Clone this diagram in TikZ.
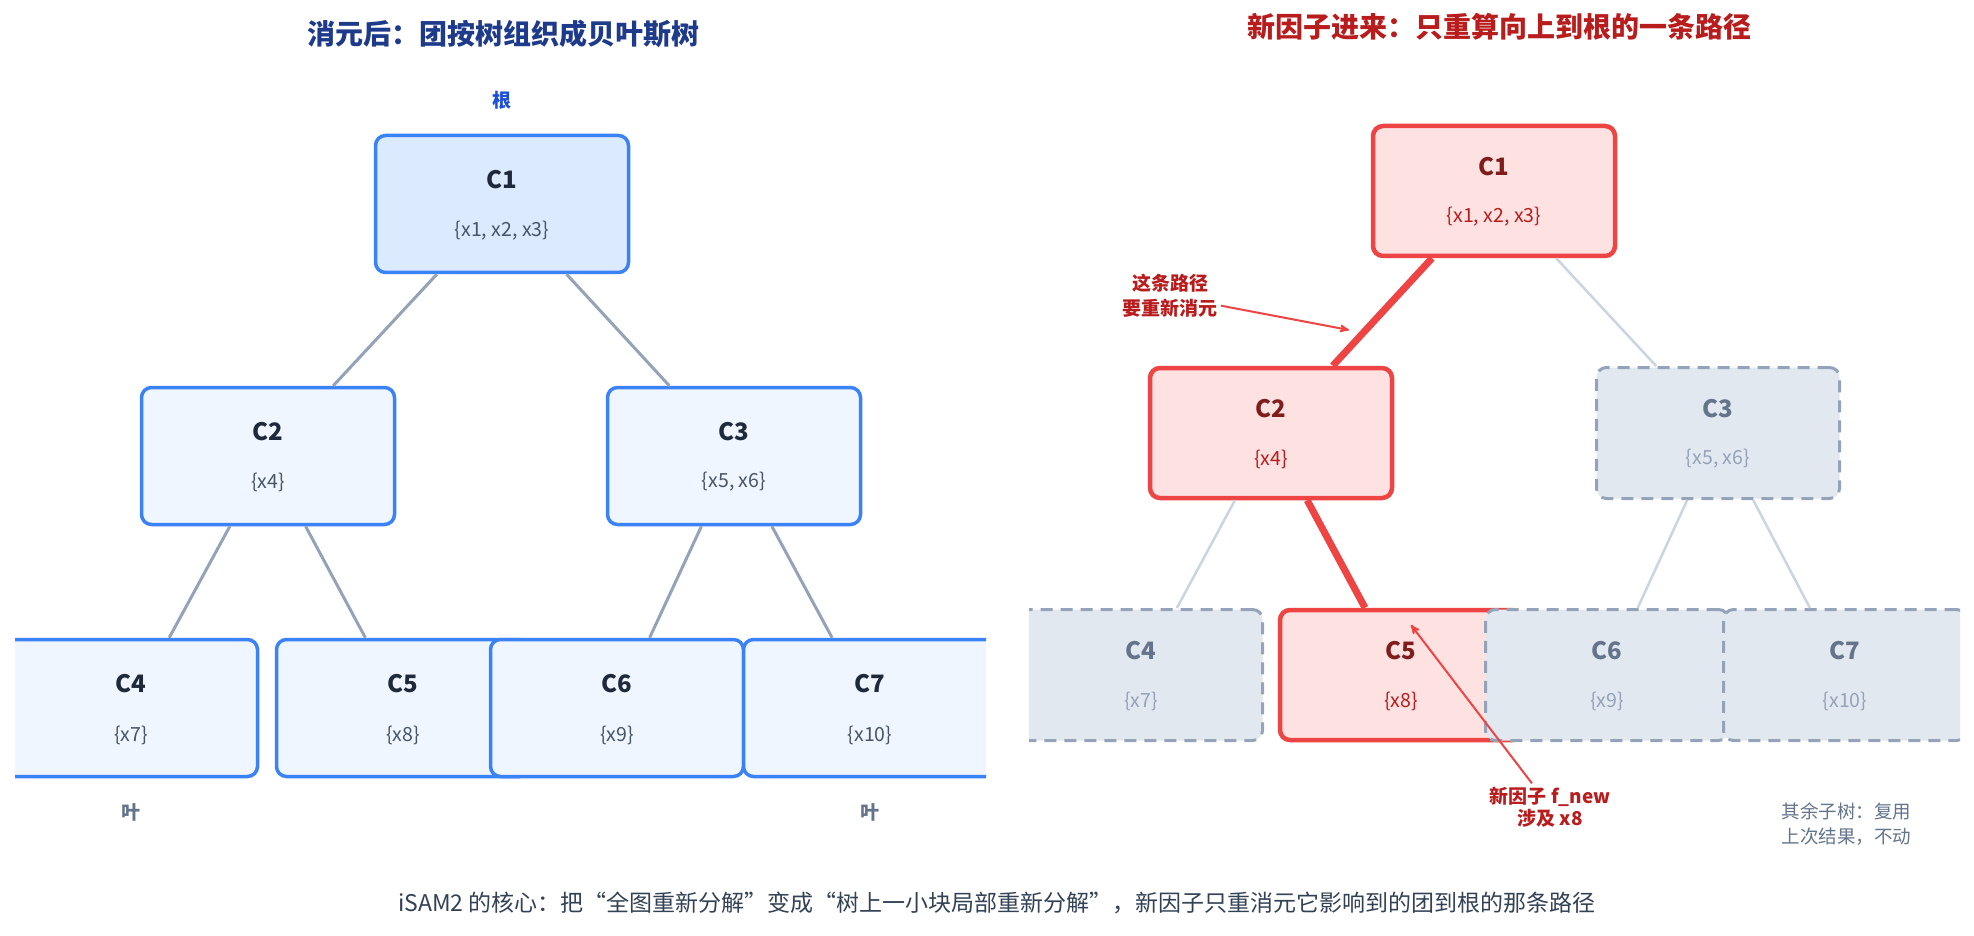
\documentclass[tikz,border=0pt]{standalone}
\usepackage{fontspec}
\setmainfont{Noto Sans CJK SC}
\usepackage{xcolor}
\usepackage{tikz}
\usetikzlibrary{arrows}

\definecolor{titleblue}{HTML}{1E3A8A}
\definecolor{titlered}{HTML}{B91C1C}
\definecolor{rootblue}{HTML}{1D4ED8}
\definecolor{boxblue}{HTML}{3B82F6}
\definecolor{fillroot}{HTML}{DBEAFE}
\definecolor{fillblue}{HTML}{EFF6FF}
\definecolor{ink}{HTML}{1E293B}
\definecolor{slatemid}{HTML}{475569}
\definecolor{edgegray}{HTML}{94A3B8}
\definecolor{redline}{HTML}{EF4444}
\definecolor{redfill}{HTML}{FEE2E2}
\definecolor{redink}{HTML}{7F1D1D}
\definecolor{greyfill}{HTML}{E2E8F0}
\definecolor{greyink}{HTML}{64748B}
\definecolor{paleedge}{HTML}{CBD5E1}
\definecolor{capink}{HTML}{334155}

\newcommand{\fsz}[2]{\fontsize{#1}{#2}\selectfont}

\begin{document}
\begin{tikzpicture}[x=1pt, y=-1pt,
  clq/.style={shape=rectangle, rounded corners=10pt, draw=boxblue, line width=3.5pt, fill=fillblue, minimum width=253pt, minimum height=137pt, inner sep=0pt},
  clqroot/.style={clq, fill=fillroot},
  hot/.style={shape=rectangle, rounded corners=10pt, draw=redline, line width=4.5pt, fill=redfill, minimum width=242pt, minimum height=130pt, inner sep=0pt},
  cold/.style={shape=rectangle, rounded corners=10pt, draw=edgegray, line width=3pt, dash pattern=on 12pt off 8pt, fill=greyfill, minimum width=243pt, minimum height=131pt, inner sep=0pt},
  cname/.style={font={\fsz{24}{28}\bfseries}, text=ink},
  cvars/.style={font={\fsz{19.5}{22}}, text=slatemid},
  hotname/.style={cname, text=redink},
  hotvars/.style={cvars, text=titlered},
  coldname/.style={cname, text=greyink},
  coldvars/.style={cvars, text=edgegray},
  tree/.style={draw=edgegray, line width=3pt},
  hotedge/.style={draw=redline, line width=7pt},
  quietedge/.style={draw=paleedge, line width=2.5pt},
  annoarrow/.style={draw=redline, line width=2pt, -stealth'},
  tag/.style={font={\fsz{19}{24}\bfseries}}
  ]
 \fill [white] (0,0) rectangle (1974,936);
 \useasboundingbox (0,0) rectangle (1974,936);

 \node (lefttitle) at (503,34) [font={\fsz{28}{32}\bfseries}, text=titleblue] {消元后：团按树组织成贝叶斯树};
 \node (righttitle) at (1499,27) [font={\fsz{28}{32}\bfseries}, text=titlered] {新因子进来：只重算向上到根的一条路径};

 \begin{scope}
 \clip (15,0) rectangle (986,936);
 \node (L1) at (502,204) [clqroot] { } ;
 \node (L1n) at (502,180) [cname] {C1};
 \node (L1v) at (502,231) [cvars] {\{x1, x2, x3\}};
 \node (L2) at (268,456) [clq] { } ;
 \node (L2n) at (268,432) [cname] {C2};
 \node (L2v) at (268,482) [cvars] {\{x4\}};
 \node (L3) at (734,456) [clq] { } ;
 \node (L3n) at (734,432) [cname] {C3};
 \node (L3v) at (734,482) [cvars] {\{x5, x6\}};
 \node (L4) at (131,708) [clq] { } ;
 \node (L4n) at (131,684) [cname] {C4};
 \node (L4v) at (131,735) [cvars] {\{x7\}};
 \node (L5) at (403,708) [clq] { } ;
 \node (L5n) at (403,684) [cname] {C5};
 \node (L5v) at (403,735) [cvars] {\{x8\}};
 \node (L6) at (617,708) [clq] { } ;
 \node (L6n) at (617,684) [cname] {C6};
 \node (L6v) at (617,735) [cvars] {\{x9\}};
 \node (L7) at (870,708) [clq] { } ;
 \node (L7n) at (870,684) [cname] {C7};
 \node (L7v) at (870,735) [cvars] {\{x10\}};
 \draw [tree] (L1) -- (L2);
 \draw [tree] (L1) -- (L3);
 \draw [tree] (L2) -- (L4);
 \draw [tree] (L2) -- (L5);
 \draw [tree] (L3) -- (L6);
 \draw [tree] (L3) -- (L7);
 \end{scope}

 \node (rootmark) at (502,100) [tag, text=rootblue] {根};
 \node (leafa) at (131,812) [tag, text=greyink] {叶};
 \node (leafb) at (870,812) [tag, text=greyink] {叶};

 \begin{scope}
 \clip (1029,0) rectangle (1960,936);
 \node (R1) at (1494,191) [hot] { } ;
 \node (R1n) at (1494,167) [hotname] {C1};
 \node (R1v) at (1494,217) [hotvars] {\{x1, x2, x3\}};
 \node (R2) at (1271,433) [hot] { } ;
 \node (R2n) at (1271,409) [hotname] {C2};
 \node (R2v) at (1271,459) [hotvars] {\{x4\}};
 \node (R3) at (1718,433) [cold] { } ;
 \node (R3n) at (1718,409) [coldname] {C3};
 \node (R3v) at (1718,459) [coldvars] {\{x5, x6\}};
 \node (R4) at (1141,675) [cold] { } ;
 \node (R4n) at (1141,651) [coldname] {C4};
 \node (R4v) at (1141,701) [coldvars] {\{x7\}};
 \node (R5) at (1401,675) [hot] { } ;
 \node (R5n) at (1401,651) [hotname] {C5};
 \node (R5v) at (1401,701) [hotvars] {\{x8\}};
 \node (R6) at (1607,675) [cold] { } ;
 \node (R6n) at (1607,651) [coldname] {C6};
 \node (R6v) at (1607,701) [coldvars] {\{x9\}};
 \node (R7) at (1845,675) [cold] { } ;
 \node (R7n) at (1845,651) [coldname] {C7};
 \node (R7v) at (1845,701) [coldvars] {\{x10\}};
 \draw [hotedge] (R1) -- (R2);
 \draw [quietedge] (R1) -- (R3);
 \draw [quietedge] (R2) -- (R4);
 \draw [hotedge] (R2) -- (R5);
 \draw [quietedge] (R3) -- (R6);
 \draw [quietedge] (R3) -- (R7);
 \end{scope}

 \node (pathnote) at (1170,296) [tag, text=titlered, align=center, font={\fsz{19}{25}\bfseries}] {这条路径\\要重新消元};
 \coordinate (pathmark) at (1349,330);
 \draw [annoarrow] (pathnote) -- (pathmark);

 \node (newnote) at (1550,807) [tag, text=titlered, align=center, font={\fsz{19}{22}\bfseries}] {新因子 f\_new\\涉及 x8};
 \coordinate (x8mark) at (1411,625);
 \draw [annoarrow] (newnote) -- (x8mark);

 \node (reusenote) at (1778,824) [anchor=west, align=left, font={\fsz{18.5}{25}}, text=greyink] {其余子树：复用\\上次结果，不动};

 \node (caption) at (997,903) [font={\fsz{23}{26}}, text=capink] {iSAM2 的核心：把“全图重新分解”变成“树上一小块局部重新分解”，新因子只重消元它影响到的团到根的那条路径};
\end{tikzpicture}
\end{document}
